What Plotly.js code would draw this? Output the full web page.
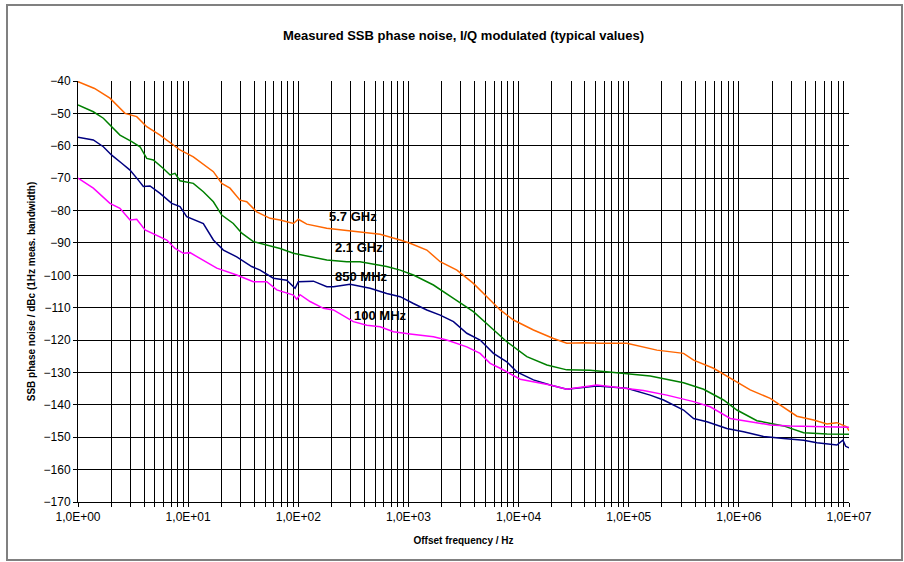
<!DOCTYPE html>
<html>
<head>
<meta charset="utf-8">
<script src="https://cdn.plot.ly/plotly-3.0.1.min.js"></script>
<style>html,body{margin:0;padding:0;background:#fff;}#chart{width:904px;height:562px;}</style>
</head>
<body>
<div id="chart"></div>
<script>
// Values: log10(offset frequency / Hz) and SSB phase noise in dBc
const logF_57 = [0,0.15,0.29,0.427,0.533,0.624,0.745,0.866,0.926,1.047,1.169,1.229,1.305,1.38,1.471,1.532,1.623,1.744,1.835,1.956,2.0,2.077,2.258,2.44,2.56,2.743,2.925,3.015,3.167,3.288,3.44,3.59,3.712,3.833,3.954,4.135,4.317,4.438,4.59,4.741,4.983,5.256,5.498,5.589,5.77,5.922,6.103,6.285,6.467,6.527,6.679,6.8,6.89,6.98,7.0];
const pn_57   = [-40.2,-42.3,-45.3,-50,-51,-54.1,-56.7,-59.8,-61.3,-63.4,-66.5,-68,-71.6,-73.1,-76.8,-77.3,-80.4,-82.4,-82.9,-84,-82.7,-84.2,-85.5,-86.2,-86.5,-87.3,-89.1,-90.1,-92.2,-95.8,-98.4,-102.5,-106.6,-110.7,-113.8,-116.9,-119.5,-121,-120.8,-121,-121,-123.1,-124.1,-126.2,-128.7,-131.8,-135.4,-138,-142.1,-143.5,-144.7,-145.9,-145.5,-146.8,-148];

const logF_21 = [0,0.139,0.23,0.306,0.381,0.488,0.563,0.624,0.684,0.775,0.836,0.881,0.926,1.047,1.138,1.229,1.305,1.41,1.487,1.592,1.714,1.835,1.956,2.107,2.259,2.44,2.56,2.803,2.925,3.045,3.227,3.409,3.59,3.742,3.893,4.075,4.257,4.438,4.65,4.892,5.195,5.498,5.68,5.861,5.982,6.164,6.406,6.588,6.8,7.0];
const pn_21   = [-47.4,-49.5,-51.5,-54.1,-56.7,-58.7,-60.3,-63.9,-64.4,-67,-69,-68.5,-70.8,-71.6,-74.2,-77.3,-81.4,-84,-87,-89.6,-90.6,-91.7,-93.2,-94.3,-95.3,-95.8,-95.8,-97.3,-98.4,-99.9,-103,-107.1,-111.2,-115.9,-120.5,-125.1,-127.7,-129.2,-129.3,-130.1,-131.1,-133.2,-135.2,-138.5,-141.6,-144.9,-146.5,-148.6,-149,-149.1];

const logF_850 = [0,0.139,0.23,0.306,0.397,0.472,0.548,0.593,0.654,0.745,0.851,0.926,0.987,1.138,1.229,1.32,1.441,1.577,1.653,1.774,1.895,1.971,2.0,2.137,2.259,2.319,2.47,2.652,2.803,2.925,3.045,3.167,3.288,3.409,3.53,3.651,3.772,3.893,3.984,4.135,4.287,4.438,4.71,4.983,5.195,5.316,5.498,5.589,5.71,5.891,6.043,6.224,6.406,6.588,6.709,6.89,6.945,6.97,7.0];
const pn_850   = [-57.4,-58.2,-60.3,-62.9,-65.4,-67.5,-70.6,-72.6,-72.4,-74.7,-77.8,-78.8,-81.9,-84,-89.1,-92.2,-94.3,-97.3,-98.4,-100.9,-101.5,-104,-102,-101.8,-103.5,-103.5,-102.8,-104,-105.6,-106.6,-108.7,-110.7,-112.3,-114.3,-117.9,-120,-124.1,-126.7,-129.8,-132.3,-133.9,-135.2,-134.2,-134.9,-137,-138.5,-141.6,-144.2,-145.2,-147.3,-148.3,-149.8,-150.4,-150.9,-151.7,-152.4,-150.9,-152.8,-153.3];

const logF_100 = [0,0.139,0.29,0.381,0.472,0.533,0.609,0.714,0.806,0.881,0.957,1.017,1.138,1.26,1.441,1.592,1.714,1.805,1.956,1.986,2.016,2.107,2.228,2.319,2.5,2.622,2.743,2.864,3.015,3.227,3.348,3.53,3.651,3.742,3.833,3.954,4.015,4.287,4.438,4.71,4.892,5.134,5.346,5.589,5.74,5.922,6.103,6.285,6.467,6.709,6.89,7.0];
const pn_100   = [-70,-73.1,-77.8,-79.3,-82.9,-82.7,-86,-87.6,-89.1,-91.7,-93.2,-93,-95.3,-97.8,-99.9,-102,-102,-104.5,-106.1,-107.4,-106,-108.1,-110.2,-110.7,-114.3,-115.4,-115.9,-117.4,-118.1,-119,-120,-122.1,-124.1,-127.2,-128.7,-130.8,-132.1,-133.9,-135.2,-133.9,-134.6,-135.6,-137,-139,-140.6,-144.2,-145.2,-146.2,-146.5,-146.7,-146.7,-146.9];

const seriesNames = ["5.7 GHz", "2.1 GHz", "850 MHz", "100 MHz"];
const decadeLabels = ["1,0E+00","1,0E+01","1,0E+02","1,0E+03","1,0E+04","1,0E+05","1,0E+06","1,0E+07"];
const yTicks = [-40,-50,-60,-70,-80,-90,-100,-110,-120,-130,-140,-150,-160,-170];

const colors = ["#FF6600", "#008000", "#000080", "#FF00FF"];
const toHz = arr => arr.map(e => Math.pow(10, e));

const xs = [logF_57, logF_21, logF_850, logF_100];
const ys = [pn_57, pn_21, pn_850, pn_100];
const traces = xs.map((lx, i) => ({
  x: toHz(lx), y: ys[i], type: "scatter", mode: "lines", name: seriesNames[i],
  line: {color: colors[i], width: 1.5}, hoverinfo: "x+y+name"
}));

// x ticks at every 1..9 x 10^n, labels on decades only
const tickvals = [], ticktext = [];
for (let d = 0; d < 7; d++) {
  for (let m = 1; m <= 9; m++) {
    tickvals.push(m * Math.pow(10, d));
    ticktext.push(m === 1 ? decadeLabels[d] : "");
  }
}
tickvals.push(1e7); ticktext.push(decadeLabels[7]);

const font = "Liberation Sans, Arial, sans-serif";
const labelPos = [[2.261,-81.7],[2.316,-91.3],[2.316,-100.5],[2.489,-112.3]];

const layout = {
  width: 904, height: 562,
  margin: {l: 78, r: 55, t: 81, b: 60},
  paper_bgcolor: "#fff", plot_bgcolor: "#fff",
  showlegend: false,
  font: {family: font, color: "#000", size: 12},
  title: {text: "<b>Measured SSB phase noise, I/Q modulated (typical values)</b>",
          font: {family: font, size: 13, color: "#000"},
          x: 0.5, xref: "paper", xanchor: "center", y: 1 - 35/562, yanchor: "middle"},
  xaxis: {
    type: "log", range: [0, 7], tickmode: "array", tickvals: tickvals, ticktext: ticktext,
    showgrid: true, gridcolor: "#000", gridwidth: 1,
    showline: true, linecolor: "#000", linewidth: 1, mirror: false,
    ticks: "outside", ticklen: 4, tickcolor: "#000", tickangle: 0,
    tickfont: {family: font, size: 12, color: "#000"}, zeroline: false,
    title: {text: "<b>Offset frequency / Hz</b>", font: {family: font, size: 10, color: "#000"}, standoff: 13}
  },
  yaxis: {
    range: [-170, -40], tickmode: "array", tickvals: yTicks,
    showgrid: true, gridcolor: "#000", gridwidth: 1,
    showline: true, linecolor: "#000", linewidth: 1,
    ticks: "outside", ticklen: 4, tickcolor: "#000",
    tickfont: {family: font, size: 12, color: "#000"}, zeroline: false,
    title: {text: "<b>SSB phase noise / dBc (1Hz meas. bandwidth)</b>", font: {family: font, size: 10, color: "#000"}, standoff: 6}
  },
  annotations: seriesNames.map((n, i) => ({
    x: labelPos[i][0], y: labelPos[i][1], xref: "x", yref: "y", text: "<b>" + n + "</b>",
    showarrow: false, xanchor: "left", yanchor: "middle",
    font: {family: font, size: 13, color: "#000"}
  })),
  shapes: [{type: "rect", xref: "paper", yref: "paper",
            x0: (7 - 78) / 771, x1: (902 - 78) / 771, y0: (502 - 560) / 421, y1: (502 - 5) / 421,
            line: {color: "#808080", width: 2}, fillcolor: "rgba(0,0,0,0)", layer: "below"}]
};

Plotly.newPlot("chart", traces, layout, {displayModeBar: false, staticPlot: true});
</script>
</body>
</html>
